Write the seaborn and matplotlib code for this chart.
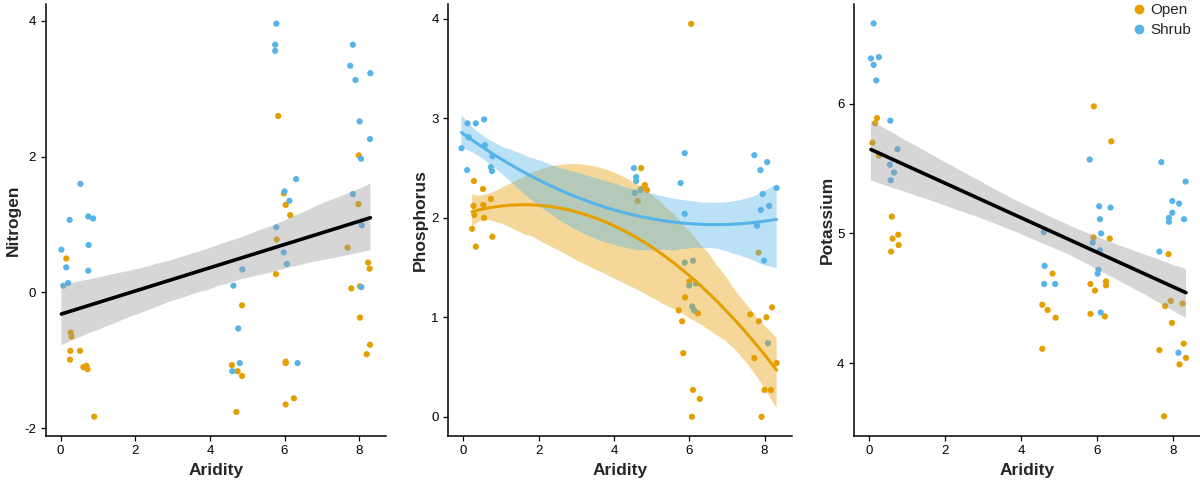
import numpy as np
import pandas as pd
import matplotlib
matplotlib.use("Agg")
import matplotlib.pyplot as plt
from matplotlib.lines import Line2D
import seaborn as sns

sns.set_style("ticks")
plt.rcParams['font.family'] = ['Liberation Sans', 'DejaVu Sans']
plt.rcParams['axes.unicode_minus'] = False

# colours (Okabe-Ito)
cor_open = '#E69F00'
cor_shrub = '#56B4E9'

# --- Nitrogen panel (jittered aridity, value)
n_open_x = [0.15, 0.27, 0.29, 0.26, 0.25, 0.52, 0.61, 0.69, 0.72, 0.90,
            5.83, 5.79, 5.77, 6.03, 6.15, 5.98, 6.03, 6.03, 6.03, 6.25,
            4.59, 4.74, 4.86, 4.71, 4.86, 7.99, 7.98, 7.69, 8.24, 8.28,
            7.79, 8.02, 8.02, 8.29, 8.20]
n_open_y = [0.50, -0.59, -0.65, -0.86, -0.99, -0.86, -1.10, -1.08, -1.13, -1.83,
            2.60, 0.78, 0.27, 1.29, 1.14, 1.46, -1.02, -1.04, -1.65, -1.56,
            -1.07, -1.16, -1.23, -1.76, -0.19, 2.02, 1.30, 0.66, 0.44, 0.35,
            0.06, 0.09, -0.37, -0.77, -0.91]
n_shrub_x = [0.02, 0.07, 0.15, 0.20, 0.24, 0.53, 0.74, 0.87, 0.75, 0.74,
             4.63, 4.87, 4.76, 4.80, 4.60, 5.78, 5.75, 5.75, 5.78, 6.00,
             6.13, 6.31, 5.98, 6.06, 6.35, 7.83, 7.76, 7.90, 8.30, 8.01,
             8.29, 8.05, 7.83, 8.07, 8.06]
n_shrub_y = [0.63, 0.10, 0.37, 0.14, 1.07, 1.60, 1.12, 1.09, 0.70, 0.32,
             0.10, 0.34, -0.53, -1.04, -1.16, 3.96, 3.65, 3.56, 0.96, 1.49,
             1.35, 1.67, 0.59, 0.42, -1.04, 3.65, 3.34, 3.13, 3.23, 2.52,
             2.26, 1.97, 1.45, 0.99, 0.08]

# --- Phosphorus panel
p_open_x = [0.28, 0.52, 0.73, 0.27, 0.53, 0.29, 0.55, 0.23, 0.77, 0.33,
            4.72, 4.82, 4.73, 4.88, 4.63, 6.05, 5.72, 5.81, 5.89, 5.84,
            6.00, 6.23, 6.10, 6.28, 6.07, 7.62, 7.85, 8.05, 8.20, 7.84,
            7.73, 8.32, 8.00, 8.17, 7.92]
p_open_y = [2.37, 2.29, 2.19, 2.12, 2.13, 2.03, 2.00, 1.89, 1.81, 1.71,
            2.50, 2.33, 2.29, 2.28, 2.17, 3.95, 1.07, 0.96, 1.20, 0.64,
            1.36, 1.04, 0.27, 0.18, 0.00, 1.03, 0.96, 1.00, 1.10, 1.65,
            0.59, 0.54, 0.27, 0.27, 0.00]
p_shrub_x = [-0.05, 0.11, 0.33, 0.55, 0.14, 0.10, 0.57, 0.77, 0.73, 0.76,
             4.53, 4.59, 4.59, 4.55, 4.70, 5.77, 5.88, 5.88, 5.88, 6.10,
             6.00, 6.18, 6.08, 6.13, 7.73, 7.89, 8.07, 8.32, 7.95, 8.12,
             7.90, 7.80, 7.99, 8.09]
p_shrub_y = [2.70, 2.95, 2.95, 2.99, 2.81, 2.48, 2.73, 2.62, 2.51, 2.47,
             2.50, 2.41, 2.37, 2.25, 2.28, 2.35, 2.65, 2.04, 1.55, 1.57,
             1.32, 1.34, 1.11, 1.07, 2.63, 2.48, 2.56, 2.30, 2.24, 2.12,
             2.08, 1.92, 1.57, 0.74]

# --- Potassium panel
k_open_x = [0.20, 0.15, 0.08, 0.25, 0.59, 0.61, 0.76, 0.77, 0.57, 4.83,
            4.56, 4.70, 4.91, 4.56, 5.92, 6.38, 5.91, 6.34, 5.83, 6.24,
            6.24, 5.95, 5.83, 6.21, 7.89, 7.95, 7.80, 8.26, 7.98, 8.29,
            7.65, 8.35, 8.18, 7.77]
k_open_y = [5.89, 5.85, 5.70, 5.60, 5.13, 4.96, 4.99, 4.91, 4.86, 4.69,
            4.45, 4.41, 4.35, 4.11, 5.98, 5.71, 4.97, 4.96, 4.61, 4.63,
            4.60, 4.56, 4.38, 4.36, 4.84, 4.48, 4.44, 4.46, 4.31, 4.15,
            4.10, 4.04, 3.99, 3.59]
k_shrub_x = [0.11, 0.04, 0.25, 0.11, 0.18, 0.55, 0.74, 0.54, 0.65, 0.56,
             4.60, 4.62, 4.61, 4.90, 5.81, 6.06, 6.36, 6.08, 6.11, 5.89,
             6.08, 6.04, 6.02, 6.10, 7.70, 8.34, 7.99, 8.17, 7.99, 7.90,
             7.90, 8.30, 7.65, 8.15]
k_shrub_y = [6.62, 6.35, 6.36, 6.30, 6.18, 5.87, 5.65, 5.53, 5.47, 5.41,
             5.01, 4.75, 4.61, 4.61, 5.57, 5.21, 5.20, 5.11, 5.00, 4.93,
             4.87, 4.72, 4.69, 4.39, 5.55, 5.40, 5.25, 5.23, 5.16, 5.12,
             5.09, 5.11, 4.86, 4.08]


def monta_df(ox, oy, sx, sy):
    return pd.DataFrame({
        'aridity': list(ox) + list(sx),
        'valor': list(oy) + list(sy),
        'habitat': ['Open'] * len(ox) + ['Shrub'] * len(sx),
    })


df_n = monta_df(n_open_x, n_open_y, n_shrub_x, n_shrub_y)
df_p = monta_df(p_open_x, p_open_y, p_shrub_x, p_shrub_y)
df_k = monta_df(k_open_x, k_open_y, k_shrub_x, k_shrub_y)
paleta = {'Open': cor_open, 'Shrub': cor_shrub}


def ajusta_banda(ax, n_antes, cor, alpha=0.4):
    for coll in ax.collections[n_antes:]:
        coll.set_facecolor(cor)
        coll.set_alpha(alpha)
        coll.set_edgecolor('none')


fig = plt.figure(figsize=(12, 4.84), dpi=100)
bottom, height = 0.0998, 0.892
ax1 = fig.add_axes([0.0381, bottom, 0.2836, height])
ax2 = fig.add_axes([0.3736, bottom, 0.2861, height])
ax3 = fig.add_axes([0.7119, bottom, 0.2881, height])

# Nitrogen
sns.scatterplot(ax=ax1, data=df_n, x='aridity', y='valor', hue='habitat', palette=paleta,
                s=20, linewidth=0, legend=False)
n0 = len(ax1.collections)
sns.regplot(ax=ax1, data=df_n, x='aridity', y='valor', scatter=False, color='black',
            line_kws={'linewidth': 2.6}, seed=1)
ajusta_banda(ax1, n0, '#999999')
ax1.set_ylabel('Nitrogen')
ax1.set_ylim(-2.11, 4.25)
ax1.set_yticks([-2, 0, 2, 4])

# Phosphorus
sns.scatterplot(ax=ax2, data=df_p, x='aridity', y='valor', hue='habitat', palette=paleta,
                s=20, linewidth=0, legend=False)
for hab in ['Open', 'Shrub']:
    n0 = len(ax2.collections)
    sns.regplot(ax=ax2, data=df_p[df_p['habitat'] == hab], x='aridity', y='valor',
                scatter=False, order=2, color=paleta[hab],
                line_kws={'linewidth': 2.2}, seed=1)
    ajusta_banda(ax2, n0, paleta[hab])
ax2.set_ylabel('Phosphorus')
ax2.set_ylim(-0.19, 4.15)
ax2.set_yticks([0, 1, 2, 3, 4])

# Potassium
sns.scatterplot(ax=ax3, data=df_k, x='aridity', y='valor', hue='habitat', palette=paleta,
                s=20, linewidth=0, legend=False)
n0 = len(ax3.collections)
sns.regplot(ax=ax3, data=df_k, x='aridity', y='valor', scatter=False, color='black',
            line_kws={'linewidth': 2.6}, seed=1)
ajusta_banda(ax3, n0, '#999999')
ax3.set_ylabel('Potassium')
ax3.set_ylim(3.44, 6.77)
ax3.set_yticks([4, 5, 6])

for ax in [ax1, ax2, ax3]:
    sns.despine(ax=ax)
    ax.set_xlim(-0.4, 8.72)
    ax.set_xticks([0, 2, 4, 6, 8])
    ax.set_xlabel('Aridity', fontsize=12.5, fontweight='bold')
    ax.set_ylabel(ax.get_ylabel(), fontsize=12.5, fontweight='bold', labelpad=2)
    ax.tick_params(labelsize=9.5, length=3.5, width=0.9, colors='black')
    for sp in ['left', 'bottom']:
        ax.spines[sp].set_linewidth(1.1)
        ax.spines[sp].set_color('black')

handles = [Line2D([], [], marker='o', linestyle='none', markersize=7,
                  markerfacecolor=paleta[h], markeredgewidth=0) for h in paleta]
fig.legend(handles, list(paleta.keys()), loc='upper right', bbox_to_anchor=(1.0, 1.012),
           frameon=False, fontsize=11, handletextpad=0.2, labelspacing=0.4,
           borderaxespad=0.2, handlelength=1.0)

fig.savefig('out.png', dpi=100)
